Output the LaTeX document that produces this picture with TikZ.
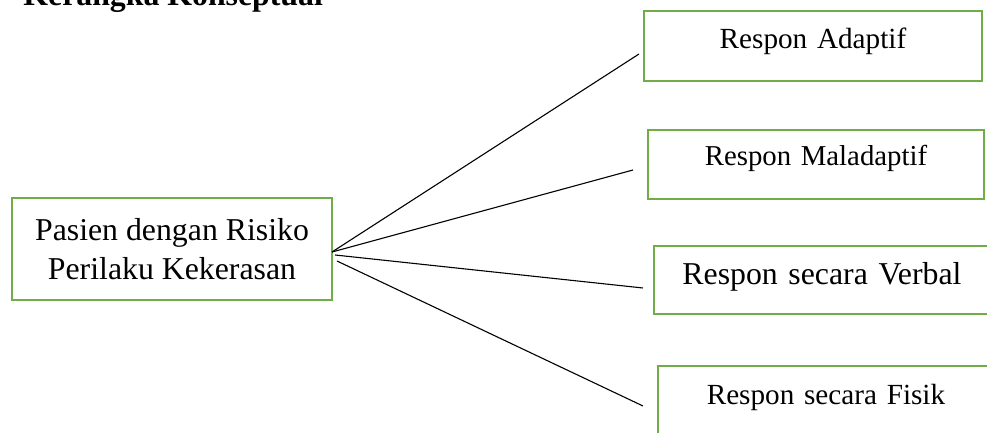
\documentclass[tikz,border=0pt]{standalone}
\usepackage{fontspec}
\setmainfont{Liberation Serif}
\definecolor{boxgreen}{RGB}{112,173,71}
\begin{document}
\begin{tikzpicture}[x=0.5pt,y=-0.5pt,
  box/.style={draw=boxgreen, line width=1pt, inner sep=0pt, align=center, anchor=north west},
  link/.style={draw=black, line width=0.55pt}]
\clip (0,0) rectangle (987,433);
\node[anchor=base west, inner sep=0pt, font=\fontsize{15.9}{19}\selectfont\bfseries] (title) at (23,6) {Kerangka Konseptual};
\node[draw=boxgreen, line width=1pt, minimum width=160pt, minimum height=51pt, inner sep=0pt, align=center, font=\fontsize{15.9}{19.5}\selectfont] (p) at (172,249) {Pasien dengan Risiko\\Perilaku Kekerasan};
\node[box, text width=169pt, text height=19pt, text depth=16pt, font=\fontsize{14.6}{17}\selectfont] (a) at (643,10) {Respon Adaptif};
\node[box, text width=168pt, text height=18pt, text depth=16.5pt, font=\fontsize{14.4}{17}\selectfont] (m) at (647,129) {Respon Maladaptif};
\node[box, text width=168pt, text height=19.5pt, text depth=14.5pt, font=\fontsize{15.9}{19}\selectfont] (v) at (653,245) {Respon secara Verbal};
\node[box, text width=168pt, text height=19pt, text depth=16pt, font=\fontsize{14.6}{17}\selectfont] (f) at (657,365) {Respon secara Fisik};
\coordinate (s1) at (332,252);
\coordinate (s2) at (332,252);
\coordinate (s3) at (335,255);
\coordinate (s4) at (337,261);
\coordinate (e1) at (639,54);
\coordinate (e2) at (633,170);
\coordinate (e3) at (643,288);
\coordinate (e4) at (643,406);
\draw[link] (s1) -- (e1);
\draw[link] (s2) -- (e2);
\draw[link] (s3) -- (e3);
\draw[link] (s4) -- (e4);
\end{tikzpicture}
\end{document}
